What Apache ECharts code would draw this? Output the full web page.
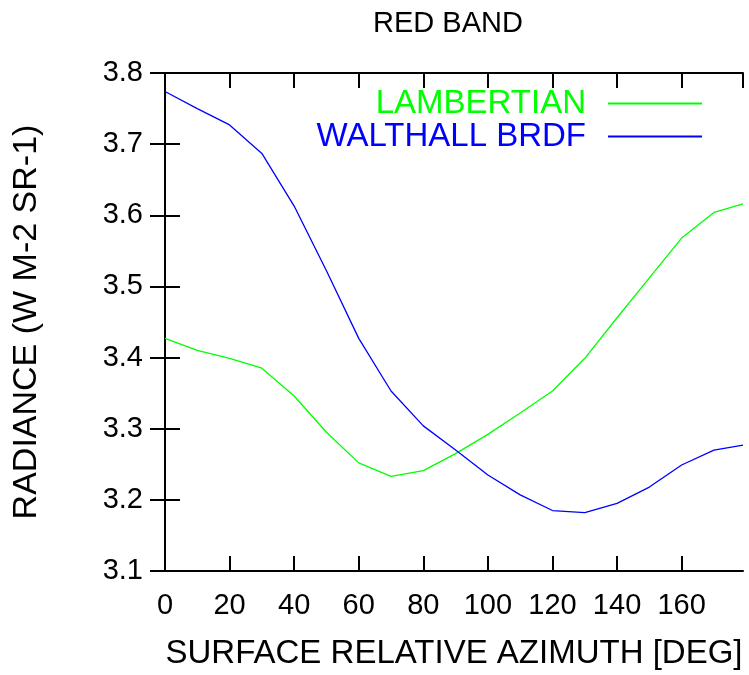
<!DOCTYPE html>
<html>
<head>
<meta charset="utf-8">
<script src="https://cdn.jsdelivr.net/npm/echarts@6/dist/echarts.min.js"></script>
<style>html,body{margin:0;padding:0;background:#fff;}#c{width:749px;height:675px;}</style>
</head>
<body>
<div id="c"></div>
<script>
const azimuth = [0,10,20,30,40,50,60,70,80,90,100,110,120,130,140,150,160,170,179];
const lambertian = [3.427,3.410,3.399,3.385,3.346,3.295,3.252,3.233,3.241,3.265,3.292,3.322,3.353,3.399,3.456,3.512,3.568,3.604,3.616];
const walthall = [3.774,3.750,3.727,3.687,3.613,3.522,3.427,3.353,3.304,3.270,3.235,3.207,3.185,3.182,3.195,3.218,3.249,3.270,3.277];
const seriesNames = ['LAMBERTIAN','WALTHALL BRDF'];
const colors = ['#00ff00','#0000ff'];
const titleText = 'RED BAND';
const xName = 'SURFACE RELATIVE AZIMUTH [DEG]';
const yName = 'RADIANCE (W M-2 SR-1)';

const FONT = 'Liberation Sans, Arial, sans-serif';
const FS = 29;
const chart = echarts.init(document.getElementById('c'), null, {renderer:'canvas'});
const axLine = {show:true, lineStyle:{color:'#000', width:2}};
const axTick = {show:true, inside:true, length:15, lineStyle:{color:'#000', width:2}};
function pairs(ys){ return azimuth.map((x,i)=>[x, ys[i]]); }
function legendFor(i, top){
  return {
    orient:'vertical', align:'right', right:46, top:top, padding:0,
    itemWidth:94, itemHeight:20,
    itemStyle:{opacity:0},
    textStyle:{fontFamily:FONT, fontSize:33, padding:[0,17,0,0]},
    data:[{name:seriesNames[i], textStyle:{color:colors[i]}}],
    selectedMode:false
  };
}
chart.setOption({
  animation:false,
  backgroundColor:'#fff',
  title:{text:titleText, left:368, top:4, textStyle:{fontFamily:FONT, fontSize:29, fontWeight:'normal', color:'#000'}},
  legend:[legendFor(0, 87), legendFor(1, 120)],
  grid:{left:165, right:6, top:73, bottom:101, containLabel:false},
  xAxis:[{
    type:'value', min:0, max:179, interval:20,
    name:xName, nameLocation:'middle', nameGap:66,
    nameTextStyle:{fontFamily:FONT, fontSize:33, color:'#000'},
    axisLine:axLine, axisTick:axTick, splitLine:{show:false},
    axisLabel:{fontFamily:FONT, fontSize:FS, color:'#000', margin:20, showMaxLabel:false}
  },{
    type:'value', position:'top', min:0, max:179, interval:20,
    axisLine:axLine, axisTick:axTick, splitLine:{show:false}, axisLabel:{show:false}
  }],
  yAxis:[{
    type:'value', min:3.1, max:3.8, interval:0.1,
    name:yName, nameLocation:'middle', nameGap:121, nameRotate:90,
    nameTextStyle:{fontFamily:FONT, fontSize:34, color:'#000'},
    axisLine:axLine, axisTick:axTick, splitLine:{show:false},
    axisLabel:{fontFamily:FONT, fontSize:FS, color:'#000', margin:22, formatter:v=>v.toFixed(1)}
  },{
    type:'value', position:'right', min:3.1, max:3.8, interval:0.1,
    axisLine:axLine, axisTick:axTick, splitLine:{show:false}, axisLabel:{show:false}
  }],
  series:[
    {name:seriesNames[0], type:'line', data:pairs(lambertian), symbol:'none', lineStyle:{color:colors[0], width:1.3}, itemStyle:{color:colors[0]}},
    {name:seriesNames[1], type:'line', data:pairs(walthall), symbol:'none', lineStyle:{color:colors[1], width:1.3}, itemStyle:{color:colors[1]}}
  ]
});
</script>
</body>
</html>
